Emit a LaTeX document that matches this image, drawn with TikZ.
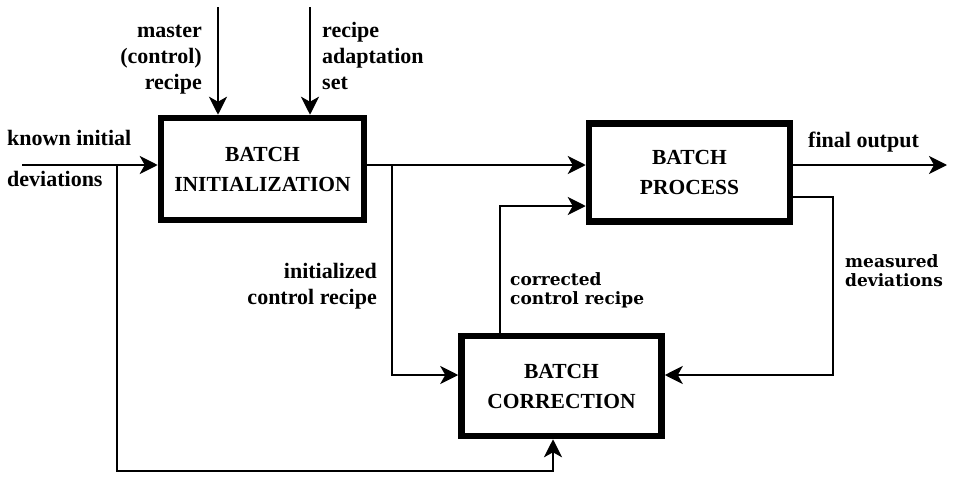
\documentclass[tikz,border=0pt]{standalone}
\usepackage{fontspec}
\setmainfont{Liberation Serif}
\newfontfamily\widefont{DejaVu Serif}
\usetikzlibrary{arrows.meta}
\begin{document}
\begin{tikzpicture}[x=1pt,y=-1pt,
  blockbox/.style={draw, line width=6.5pt, inner sep=0pt, align=center,
    font=\bfseries\fontsize{21.5}{30}\selectfont},
  flow/.style={line width=2.6pt,
    -{Stealth[length=18pt,width=18pt,inset=5pt]}},
  lbl/.style={inner sep=0pt, font=\bfseries\fontsize{22}{26}\selectfont},
  widelbl/.style={inner sep=0pt, font=\widefont\bfseries\fontsize{17}{19}\selectfont}
]
\useasboundingbox (0,0) rectangle (955,479);

% the three blocks
\node[blockbox, minimum width=203pt, minimum height=102pt] (init) at (262.5,169)
  {BATCH\\INITIALIZATION};
\node[blockbox, minimum width=201pt, minimum height=98pt] (proc) at (689.5,172.5)
  {BATCH\\PROCESS};
\node[blockbox, minimum width=200pt, minimum height=100pt] (corr) at (561.5,386)
  {BATCH\\CORRECTION};

% connector turning points
\coordinate (mIn) at (218,7);
\coordinate (rIn) at (310,7);
\coordinate (kIn) at (22,165);
\coordinate (kB) at (117,165);
\coordinate (kLow) at (117,471);
\coordinate (cUp) at (553,471);
\coordinate (iB) at (392,165);
\coordinate (iLow) at (392,375);
\coordinate (cTurn) at (500,206);
\coordinate (fOut) at (947,165);
\coordinate (mTurn) at (833,197);

% inputs of the initialization block
\draw[flow] (mIn) -- (mIn |- init.north);
\draw[flow] (rIn) -- (rIn |- init.north);
\draw[flow] (kIn) -- (kIn -| init.west);
\draw[flow] (kB) -- (kLow) -- (cUp) -- (cUp |- corr.south);

% initialized recipe to the process and to the correction block
\draw[flow] (kIn -| init.east) -- (kIn -| proc.west);
\draw[flow] (iB) -- (iLow) -- (iLow -| corr.west);

% corrected recipe back to the process
\draw[flow] (cTurn |- corr.north) -- (cTurn) -- (cTurn -| proc.west);

% process output and measured deviations
\draw[flow] (fOut -| proc.east) -- (fOut);
\draw[flow] (mTurn -| proc.east) -- (mTurn) -- (mTurn |- iLow) -- (iLow -| corr.east);

% labels (the base anchor of a multi-line label sits on its last line)
\node[lbl, align=right, anchor=base east] (lmaster) at (202,89)
  {master\\(control)\\recipe};
\node[lbl, align=left, anchor=base west] (ladapt) at (322,89)
  {recipe\\adaptation\\set};
\node[lbl, anchor=base west] (lknown) at (7,145) {known initial};
\node[lbl, anchor=base west] (ldev) at (7,186) {deviations};
\node[lbl, align=right, anchor=base east] (linit) at (377,304)
  {initialized\\control recipe};
\node[widelbl, align=left, anchor=base west] (lcorr) at (510,304)
  {corrected\\control recipe};
\node[lbl, anchor=base west] (lfinal) at (808,147) {final output};
\node[widelbl, align=left, anchor=base west] (lmeas) at (845,286)
  {measured\\deviations};
\end{tikzpicture}
\end{document}
